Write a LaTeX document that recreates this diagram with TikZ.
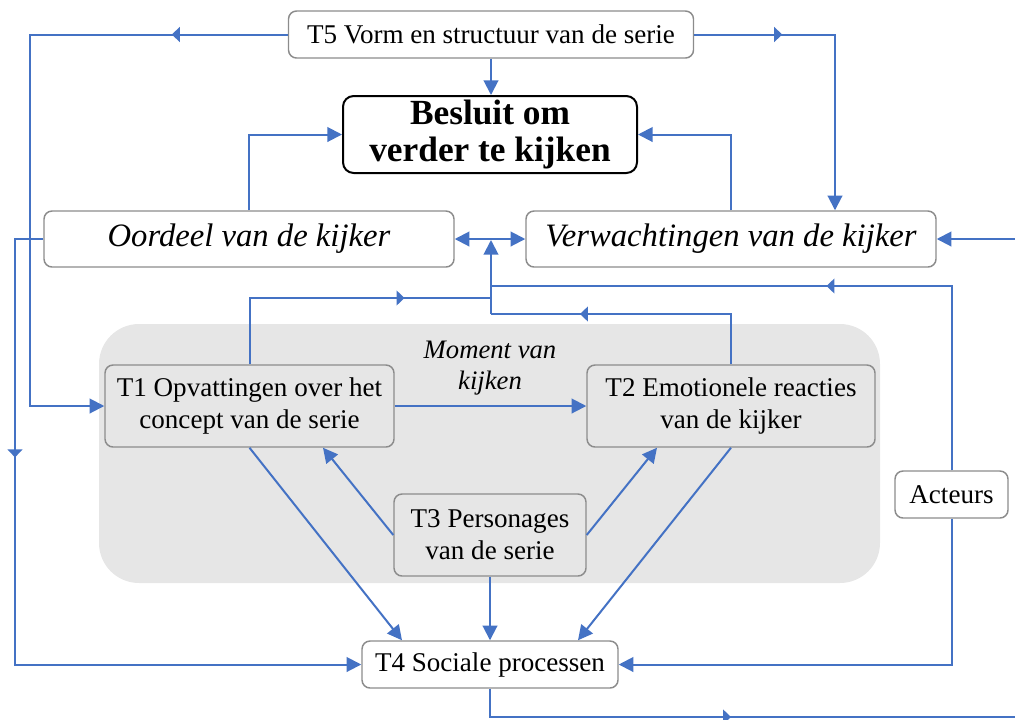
\documentclass[tikz,border=0pt]{standalone}
\usepackage{fontspec}
\setmainfont{Liberation Serif}
\usetikzlibrary{arrows.meta,decorations.markings,calc}
\definecolor{lblue}{HTML}{4472C4}
\definecolor{bgray}{HTML}{8C8C8C}
\definecolor{rgray}{HTML}{E6E6E6}
\tikzset{
  conn/.style={draw=lblue, line width=1.5pt},
  arr/.style={conn, -{Triangle[length=11pt,width=11pt]}},
  darr/.style={conn, {Triangle[length=11pt,width=11pt]}-{Triangle[length=11pt,width=11pt]}},
  midarr/.style={postaction={decorate}, decoration={markings,
      mark=at position #1 with {\arrow{Triangle[length=6pt,width=11pt]}}}},
  basebox/.style={draw=bgray, line width=1.1pt, rounded corners=6pt, align=center,
      inner sep=0pt, font=\fontsize{20.3}{24}\selectfont},
  wbox/.style={basebox, fill=white},
  gbox/.style={basebox, fill=rgray},
  ibox/.style={wbox, font=\fontsize{24.5}{28}\selectfont\itshape},
  bbox/.style={draw=black, fill=white, line width=1.5pt, rounded corners=8pt, align=center,
      inner sep=0pt, font=\fontsize{26.5}{28}\selectfont\bfseries},
}
\begin{document}
\begin{tikzpicture}[x=0.75pt,y=-0.75pt]
\useasboundingbox (0,0) rectangle (1015,719);
% region
\fill[rgray, rounded corners=30pt] (99,324) rectangle (880,583);
\node[font=\fontsize{20}{23}\selectfont\itshape, align=center] (moment) at (490,368) {Moment van\\kijken};
% nodes
\node[wbox, minimum width=303.75pt, minimum height=35.25pt] (T5) at (491,34.5) {T5 Vorm en structuur van de serie};
\node[bbox, minimum width=220.5pt, minimum height=57.75pt] (besluit) at (490,134.5) {Besluit om\\verder te kijken};
\node[ibox, minimum width=307.5pt, minimum height=42pt] (oordeel) at (249,239) {Oordeel van de kijker};
\node[ibox, minimum width=307.5pt, minimum height=42pt] (verw) at (731,239) {Verwachtingen van de kijker};
\node[gbox, minimum width=216.75pt, minimum height=61.5pt] (T1) at (249.5,406) {T1 Opvattingen over het\\concept van de serie};
\node[gbox, minimum width=216pt, minimum height=61.5pt] (T2) at (731,406) {T2 Emotionele reacties\\van de kijker};
\node[gbox, minimum width=144pt, minimum height=61.5pt] (T3) at (490,535) {T3 Personages\\van de serie};
\node[wbox, minimum width=192pt, minimum height=35.25pt] (T4) at (490,664.5) {T4 Sociale processen};
\node[wbox, minimum width=84.75pt, minimum height=35.25pt] (acteurs) at (951.5,494.5) {Acteurs};
% coordinates
\coordinate (lt) at (30,34.5);
\coordinate (rt) at (835,34.5);
\coordinate (ll) at (15,239);
\coordinate (j1) at (491,286);
\coordinate (j2) at (491,298);
\coordinate (j3) at (491,314);
\coordinate (jt) at (491,240);
\coordinate (er) at (1015,239);
\coordinate (br) at (1015,717);
% connectors
\draw[arr, midarr=87pt] (T5.west) -- (lt) |- (T1.west);
\draw[arr, midarr=66pt] (T5.east) -- (rt) -- (rt |- verw.north);
\draw[arr] (T5.south -| besluit.north) ++(1,0) -- ($(besluit.north)+(1,0)$);
\draw[arr] (oordeel.north) |- (besluit.west);
\draw[arr] (verw.north) |- (besluit.east);
\draw[darr] (oordeel.east) -- (verw.west);
\draw[arr] (j3) -- (jt);
\draw[arr] (er) -- (verw.east);
\draw[arr, midarr=185pt] (oordeel.west) -- (ll) |- (T4.west);
\draw[conn, midarr=166pt] (T1.north) |- (j2);
\draw[conn, midarr=151pt] (T2.north) |- (j3);
\draw[conn, midarr=232pt] (acteurs.north) |- (j1);
\draw[arr] (acteurs.south) |- (T4.east);
\draw[arr] (T1.east) -- (T2.west);
\draw[arr] (T3.west) -- ($(T1.south)+(73.5,0)$);
\draw[arr] (T3.east) -- ($(T2.south)+(-74,0)$);
\draw[arr] (T1.south) -- ($(T4.north)+(-88,0)$);
\draw[arr] (T2.south) -- ($(T4.north)+(88,0)$);
\draw[arr] (T3.south) -- (T4.north);
\draw[conn, midarr=202pt] (T4.south) |- (br);
\end{tikzpicture}
\end{document}
